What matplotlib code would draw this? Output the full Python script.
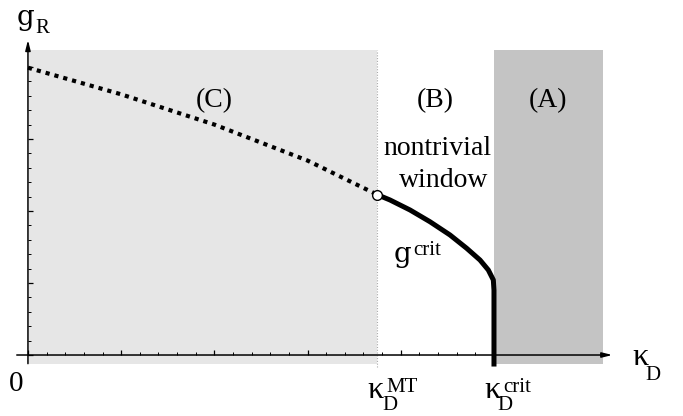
import matplotlib.pyplot as plt

# === Data ===
kappa_mt = 3.75
kappa_crit = 5.0
region_top = 4.24
region_bottom = -0.125
region_a_right = 6.17

# dotted continuation in region (C)
dot_x = [0.0, 1.0, 2.0, 3.0, 3.75]
dot_y = [3.99, 3.62, 3.20, 2.70, 2.225]

# g^crit curve in the nontrivial window
crit_x = [3.75, 3.884, 4.099, 4.313, 4.528, 4.707, 4.850, 4.939, 4.993, 5.0, 5.0]
crit_y = [2.225, 2.153, 2.014, 1.851, 1.667, 1.482, 1.319, 1.181, 1.042, 0.90, -0.16]

serif = "Liberation Serif"
gfont = "DejaVu Serif"
big = 20
small = 15
kap = 23

# === Plot ===
fig = plt.figure(figsize=(6.83, 4.16), dpi=100)
ax = fig.add_axes([0, 0, 1, 1])
ax.set_xlim(-0.300, 7.028)
ax.set_ylim(-0.847, 4.93)

# shaded regions
ax.fill_between([0.01, kappa_mt], region_bottom, region_top, color="#e6e6e6", lw=0, zorder=0)
ax.fill_between([kappa_crit, region_a_right], region_bottom, region_top, color="#c4c4c4", lw=0, zorder=0)
ax.plot([kappa_mt, kappa_mt], [-0.17, region_top], color="#aaaaaa", lw=0.8, ls=(0, (1, 1.5)), zorder=1)

# axes with arrows
for s in ["top", "right"]:
    ax.spines[s].set_visible(False)
for s in ["left", "bottom"]:
    ax.spines[s].set_position(("data", 0))
    ax.spines[s].set_color("none")
arrow = dict(arrowstyle="-|>,head_length=0.6,head_width=0.15", color="black", lw=1.1,
             shrinkA=0, shrinkB=0)
ax.annotate("", xy=(6.27, 0), xytext=(-0.12, 0), arrowprops=arrow, zorder=3)
ax.annotate("", xy=(0, 4.375), xytext=(0, -0.12), arrowprops=arrow, zorder=3)

ax.set_xticks([0, 1, 2, 3, 4])
ax.set_xticks([0.2 * i for i in range(1, 25) if i % 5], minor=True)
ax.set_yticks([0, 1, 2, 3, 4])
ax.set_yticks([0.2 * i for i in range(1, 21) if i % 5], minor=True)
ax.tick_params(which="both", direction="in", labelbottom=False, labelleft=False, color="black")
ax.tick_params(which="major", length=3.5, width=0.9)
ax.tick_params(which="minor", length=2, width=0.7)

# curves
ax.plot(dot_x, dot_y, color="black", lw=3, ls=(0, (1, 1.2)), dash_capstyle="butt", zorder=4)
ax.plot(crit_x, crit_y, color="black", lw=3.6, solid_capstyle="butt", solid_joinstyle="round", zorder=4)
ax.plot([kappa_mt], [dot_y[-1]], marker="o", ms=7, mfc="white", mec="black", mew=1.0, zorder=5)

# region labels
ax.text(2.0, 3.44, "(C)", fontsize=big, family=serif, ha="center", va="baseline")
ax.text(4.37, 3.44, "(B)", fontsize=big, family=serif, ha="center", va="baseline")
ax.text(5.58, 3.44, "(A)", fontsize=big, family=serif, ha="center", va="baseline")
ax.text(4.39, 2.78, "nontrivial", fontsize=big, family=serif, ha="center", va="baseline")
ax.text(4.46, 2.33, "window", fontsize=big, family=serif, ha="center", va="baseline")

# g^crit
ax.text(3.92, 1.29, "g", fontsize=big, family=gfont, ha="left", va="baseline")
ax.text(4.13, 1.39, "crit", fontsize=small, family=serif, ha="left", va="baseline")

# axis labels
ax.text(-0.13, -0.50, "0", fontsize=21, family=serif, ha="center", va="baseline")
ax.text(-0.12, 4.58, "g", fontsize=big, family=gfont, ha="left", va="baseline")
ax.text(0.075, 4.47, "R", fontsize=small, family=serif, ha="left", va="baseline")

ax.text(3.64, -0.60, "κ", fontsize=kap, family=serif, ha="left", va="baseline")
ax.text(3.80, -0.77, "D", fontsize=small, family=serif, ha="left", va="baseline")
ax.text(3.85, -0.51, "MT", fontsize=small, family=serif, ha="left", va="baseline")

ax.text(4.90, -0.60, "κ", fontsize=kap, family=serif, ha="left", va="baseline")
ax.text(5.04, -0.77, "D", fontsize=small, family=serif, ha="left", va="baseline")
ax.text(5.10, -0.51, "crit", fontsize=small, family=serif, ha="left", va="baseline")

ax.text(6.48, -0.14, "κ", fontsize=kap, family=serif, ha="left", va="baseline")
ax.text(6.62, -0.35, "D", fontsize=small, family=serif, ha="left", va="baseline")

fig.savefig("out.png", dpi=100)
